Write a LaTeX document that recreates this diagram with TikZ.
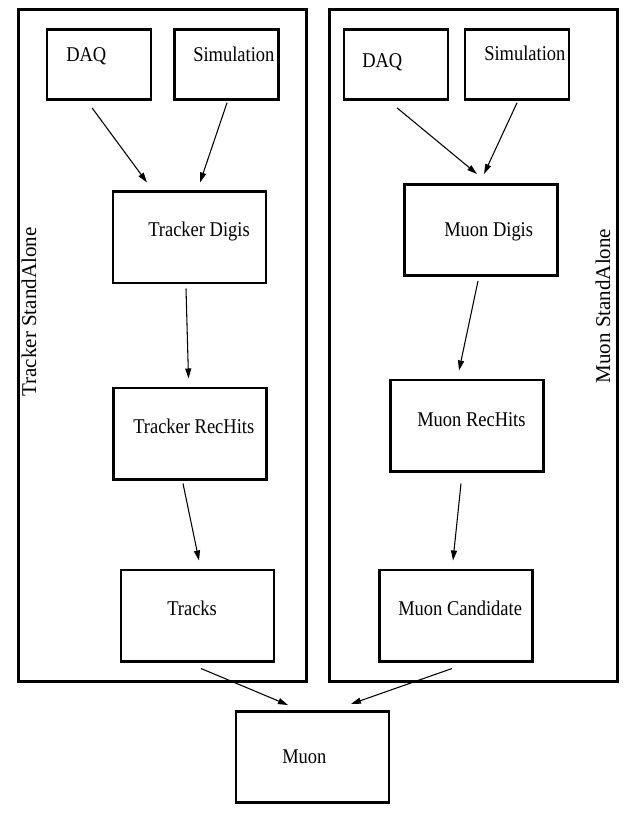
\documentclass[tikz,border=0pt]{standalone}
\usepackage{fontspec}
\setmainfont{Liberation Serif}
\newfontfamily\flatserif[FakeStretch=0.88]{Liberation Serif}
\usetikzlibrary{arrows.meta}
\tikzset{
  frame/.style={draw, line width=2pt, minimum width=216pt, minimum height=504pt},
  srcbox/.style={draw, line width=2pt, minimum width=78pt, minimum height=52.5pt},
  stagebox/.style={draw, line width=2pt, minimum width=114.75pt, minimum height=68.5pt},
  txt/.style={inner sep=0pt, anchor=base west, font=\flatserif\fontsize{15.75}{18}\selectfont},
  sidetxt/.style={inner sep=0pt, rotate=90, font=\fontsize{15.75}{18}\selectfont},
  flow/.style={-{Triangle[length=7.5pt,width=4.5pt]}, line width=0.8pt}
}
\begin{document}
\begin{tikzpicture}[x=0.75pt,y=-0.75pt] % reconstruction chain
  \useasboundingbox (0,0) rectangle (637,816);
  % the two standalone frames
  \node[frame] (trkSA) at (162.5,345.5) {};
  \node[frame] (muSA) at (473.5,345.5) {};
  \node[sidetxt] (trkSAtxt) at (29,312) {Tracker StandAlone};
  \node[sidetxt] (muSAtxt) at (603,306) {Muon StandAlone};
  % tracker side
  \node[srcbox] (daqL) at (99,64.5) {};
  \node[srcbox] (simL) at (226.5,64.5) {};
  \node[stagebox] (trkDigi) at (189.5,237.5) {};
  \node[stagebox] (trkHits) at (190,433.5) {};
  \node[stagebox] (tracks) at (197.5,615.5) {};
  \node[txt] (daqLtxt) at (66,62) {DAQ};
  \node[txt] (simLtxt) at (193,62) {Simulation};
  \node[txt] (trkDigitxt) at (148,237) {Tracker Digis};
  \node[txt] (trkHitstxt) at (133,433) {Tracker RecHits};
  \node[txt] (trackstxt) at (167,615) {Tracks};
  % muon side
  \node[srcbox] (daqR) at (396,64.5) {};
  \node[srcbox] (simR) at (517,64.5) {};
  \node[stagebox] (muDigi) at (481,230) {};
  \node[stagebox] (muHits) at (467,425.5) {};
  \node[stagebox] (muCand) at (456,615.5) {};
  \node[txt] (daqRtxt) at (362,68) {DAQ};
  \node[txt] (simRtxt) at (484,61) {Simulation};
  \node[txt] (muDigitxt) at (444,237) {Muon Digis};
  \node[txt] (muHitstxt) at (417,426) {Muon RecHits};
  \node[txt] (muCandtxt) at (398,615) {Muon Candidate};
  % combined result
  \node[stagebox] (muon) at (312.5,757) {};
  \node[txt] (muontxt) at (282,763) {Muon};
  % arrows
  \draw[flow] ([shift={(-7,7)}]daqL.south) -- ([shift={(-42.5,-8)}]trkDigi.north);
  \draw[flow] ([shift={(0.5,2)}]simL.south) -- ([shift={(10.5,-8)}]trkDigi.north);
  \draw[flow] ([shift={(-3.5,4)}]trkDigi.south) -- ([shift={(-1.5,-8)}]trkHits.north);
  \draw[flow] ([shift={(-7,3)}]trkHits.south) -- ([shift={(1.5,-8)}]tracks.north);
  \draw[flow] ([shift={(3.5,6)}]tracks.south) -- ([shift={(-24.5,-5)}]muon.north);
  \draw[flow] ([shift={(1,7)}]daqR.south) -- ([shift={(-4,-9)}]muDigi.north);
  \draw[flow] ([shift={(0,2)}]simR.south) -- ([shift={(3,-9)}]muDigi.north);
  \draw[flow] ([shift={(-3,4)}]muDigi.south) -- ([shift={(-8,-8)}]muHits.north);
  \draw[flow] ([shift={(-6,11)}]muHits.south) -- ([shift={(-3,-8)}]muCand.north);
  \draw[flow] ([shift={(-4,6)}]muCand.south) -- ([shift={(38.5,-6)}]muon.north);
\end{tikzpicture}
\end{document}
